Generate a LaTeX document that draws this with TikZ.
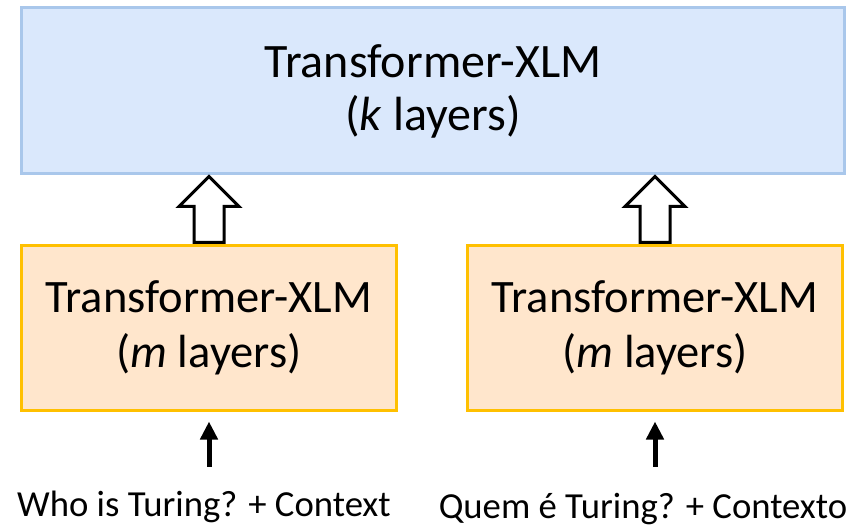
\documentclass[tikz,border=0pt]{standalone}
\usepackage{fontspec}
\setmainfont{Carlito}
\usepackage{tikz}
\usetikzlibrary{arrows.meta,calc}

\begin{document}
\begin{tikzpicture}[x=1pt,y=-1pt]
%
\useasboundingbox (0,0) rectangle (856,529);
%
\definecolor{cfk}{RGB}{218,232,252}
\definecolor{cbk}{RGB}{169,199,235}
\definecolor{cfm}{RGB}{255,230,204}
\definecolor{cbm}{RGB}{255,192,0}
%
\tikzset{
  kbox/.style={draw=cbk,fill=cfk,line width=3pt,minimum width=823pt,minimum height=166pt,
    align=center,font=\fontsize{48}{53}\selectfont},
  mbox/.style={draw=cbm,fill=cfm,line width=3pt,minimum width=375pt,minimum height=164pt,
    align=center,font=\fontsize{46.5}{55}\selectfont},
  hollow/.style={draw=black,fill=white,line width=3pt,line join=miter},
  inarrow/.style={line width=5pt,-{Triangle[width=17pt,length=18pt]}},
  question/.style={anchor=base,inner sep=0pt,font=\fontsize{36.7}{44}\selectfont}
}
%
\node[kbox] (kTop) at (433,91) {Transformer-XLM\\(\textit{k} layers)};
\node[mbox] (mA) at (209,328) {Transformer-XLM\\(\textit{m} layers)};
\node[mbox] (mB) at (655,328) {Transformer-XLM\\(\textit{m} layers)};
%
\node[question] (qA) at (204,516) {Who is Turing? + Context};
\node[question] (qB) at (643,518) {Quem é Turing? + Contexto};
%
\draw[hollow] ($(mA.north)+(-15,-2)$) -- ++(0,-36) -- ++(-15,0) -- ++(30,-30)
  -- ++(30,30) -- ++(-15,0) -- ++(0,36) -- cycle;
\draw[hollow] ($(mB.north)+(-15,-2)$) -- ++(0,-36) -- ++(-15,0) -- ++(30,-30)
  -- ++(30,30) -- ++(-15,0) -- ++(0,36) -- cycle;
%
\draw[inarrow] ($(mA.south)+(0,55)$) -- ($(mA.south)+(0,10)$);
\draw[inarrow] ($(mB.south)+(0,55)$) -- ($(mB.south)+(0,10)$);
%
\end{tikzpicture}
\end{document}
